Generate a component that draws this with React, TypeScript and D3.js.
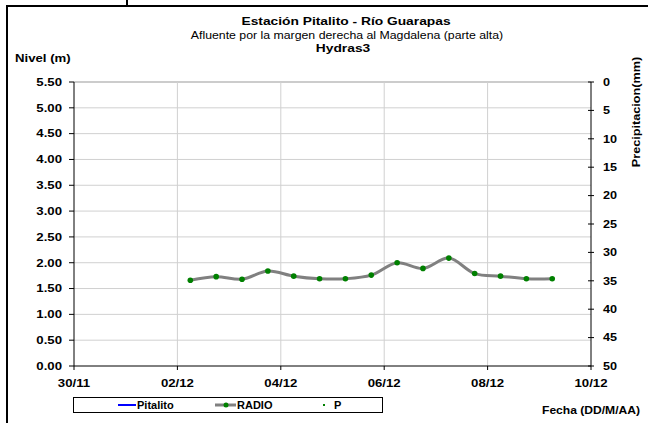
import React from "react";
import * as d3 from "d3";

const xTickLabels = ["30/11", "02/12", "04/12", "06/12", "08/12", "10/12"];
const xTickDates = ["2023-11-30", "2023-12-02", "2023-12-04", "2023-12-06", "2023-12-08", "2023-12-10"];
const levelTicks = [0, 0.5, 1, 1.5, 2, 2.5, 3, 3.5, 4, 4.5, 5, 5.5];
const precipTicks = [0, 5, 10, 15, 20, 25, 30, 35, 40, 45, 50];
const radioTimes = [
  "2023-12-02T06:00Z", "2023-12-02T18:00Z", "2023-12-03T06:00Z", "2023-12-03T18:00Z",
  "2023-12-04T06:00Z", "2023-12-04T18:00Z", "2023-12-05T06:00Z", "2023-12-05T18:00Z",
  "2023-12-06T06:00Z", "2023-12-06T18:00Z", "2023-12-07T06:00Z", "2023-12-07T18:00Z",
  "2023-12-08T06:00Z", "2023-12-08T18:00Z", "2023-12-09T06:00Z",
];
const radioValues = [1.66, 1.73, 1.68, 1.84, 1.74, 1.69, 1.69, 1.76, 2.0, 1.89, 2.09, 1.79, 1.74, 1.69, 1.69];
const legendNames = ["Pitalito", "RADIO", "P"];

const FONT = "'Liberation Sans', Arial, sans-serif";

function T({ x, y, children, anchor = "start", size = 11, weight = "bold", sx = 1.2, rotate = 0, dy = "0" }: any) {
  return (
    <text
      transform={`translate(${x},${y}) rotate(${rotate}) scale(${sx},1)`}
      textAnchor={anchor}
      fontFamily={FONT}
      fontSize={size}
      fontWeight={weight}
      dy={dy}
      fill="#000"
    >
      {children}
    </text>
  );
}

export default function App() {
  const W = 648, H = 423;
  const left = 74, right = 591, top = 82, bottom = 366;
  const x = d3.scaleUtc()
    .domain([new Date("2023-11-30T00:00Z"), new Date("2023-12-10T00:00Z")])
    .range([left, right]);
  const y = d3.scaleLinear().domain([0, 5.5]).range([bottom, top]);
  const yP = d3.scaleLinear().domain([0, 50]).range([top, bottom]);

  const pts = radioTimes.map((t, i) => [x(new Date(t)), y(radioValues[i])] as [number, number]);
  const line = d3.line().curve(d3.curveCatmullRom.alpha(0.5))(pts) || "";

  return (
    <svg width={W} height={H} style={{ position: "absolute", left: 0, top: 0 }}>
      <rect width={W} height={H} fill="#fff" />
      {/* frame */}
      <line x1={7} x2={7} y1={5} y2={H} stroke="#000" strokeWidth={2} />
      <line x1={6} x2={W} y1={6} y2={6} stroke="#000" strokeWidth={2} />
      <line x1={127} x2={127} y1={0} y2={6} stroke="#000" strokeWidth={2} />

      {/* titles */}
      <T x={346} y={25} anchor="middle" size={11.5}>Estación Pitalito  - Río Guarapas</T>
      <T x={347} y={39} anchor="middle" size={11} weight="normal" sx={1.12}>Afluente por la margen derecha al Magdalena (parte alta)</T>
      <T x={343} y={52} anchor="middle" size={11.5}>Hydras3</T>
      <T x={15} y={62} size={11}>Nivel (m)</T>
      <T x={640} y={112} anchor="middle" size={11} rotate={-90} sx={1.15}>Precipitacion(mm)</T>

      {/* grid */}
      {levelTicks.filter(v => v > 0).map(v => (
        <line key={"h" + v} x1={left} x2={right} y1={y(v)} y2={y(v)}
          stroke={v === 5.5 ? "#999" : "#d0d0d0"} strokeWidth={1} />
      ))}
      {xTickDates.slice(1, -1).map(d => (
        <line key={"v" + d} x1={x(new Date(d + "T00:00Z"))} x2={x(new Date(d + "T00:00Z"))}
          y1={top} y2={bottom} stroke="#d0d0d0" strokeWidth={1} />
      ))}

      {/* axes */}
      <line x1={left} x2={left} y1={top} y2={bottom} stroke="#000" strokeWidth={1} />
      <line x1={right} x2={right} y1={top} y2={bottom} stroke="#000" strokeWidth={1} />
      <line x1={left} x2={right} y1={bottom} y2={bottom} stroke="#000" strokeWidth={1} />
      {levelTicks.map(v => (
        <g key={"l" + v}>
          <line x1={left - 5} x2={left} y1={y(v)} y2={y(v)} stroke="#000" />
          <T x={62} y={y(v)} anchor="end" dy="0.35em">{v.toFixed(2)}</T>
        </g>
      ))}
      {precipTicks.map(v => (
        <g key={"p" + v}>
          <line x1={right - 3} x2={right + 3} y1={yP(v)} y2={yP(v)} stroke="#000" />
          <T x={603} y={yP(v)} dy="0.35em" sx={1.15}>{v}</T>
        </g>
      ))}
      {xTickDates.map((d, i) => {
        const xx = x(new Date(d + "T00:00Z"));
        return (
          <g key={"x" + d}>
            <line x1={xx} x2={xx} y1={bottom} y2={bottom + 4} stroke="#000" />
            <T x={xx} y={387} anchor="middle">{xTickLabels[i]}</T>
          </g>
        );
      })}

      {/* series */}
      <path d={line} fill="none" stroke="#808080" strokeWidth={3} />
      {pts.map((p, i) => (
        <circle key={"c" + i} cx={p[0]} cy={p[1]} r={2.8} fill="#008000" />
      ))}

      {/* legend */}
      <rect x={73.5} y={397.5} width={309} height={15} fill="#fff" stroke="#000" strokeWidth={1} />
      <line x1={118} x2={136} y1={405} y2={405} stroke="#0000ff" strokeWidth={2} />
      <T x={137} y={409} sx={1}>{legendNames[0]}</T>
      <line x1={215} x2={236} y1={405} y2={405} stroke="#808080" strokeWidth={3} />
      <circle cx={226} cy={405} r={2.5} fill="#008000" />
      <T x={237} y={409} sx={1}>{legendNames[1]}</T>
      <rect x={323} y={404} width={2} height={2} fill="#008000" />
      <T x={334} y={409} sx={1}>{legendNames[2]}</T>

      <T x={542} y={414} sx={1.1}>Fecha (DD/M/AA)</T>
    </svg>
  );
}
